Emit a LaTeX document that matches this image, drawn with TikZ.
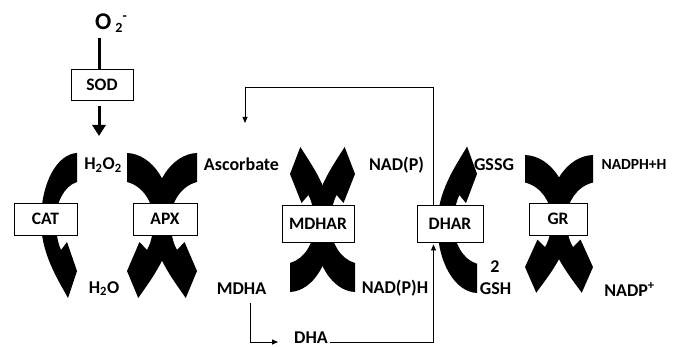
\documentclass[tikz,border=0pt]{standalone}
\usepackage{fontspec}
\setmainfont{Carlito}
\usetikzlibrary{arrows.meta}
\begin{document}
\begin{tikzpicture}[x=1pt,y=-1pt,
 cres/.pic={\fill[black] (0,0) .. controls (-20,1) and (-36,30) .. (-36,68)
   .. controls (-36,100) and (-20,125) .. (-9,145) -- (0,118) -- (-10,89) -- (-16,97)
   .. controls (-20,88) and (-21,78) .. (-21,66) .. controls (-21,50) and (-13,33) .. (0,29) -- cycle;},
 enz/.style={draw=black,line width=0.9pt,fill=white,inner sep=0pt,font=\bfseries\fontsize{17.5}{18}\selectfont},
 lab/.style={inner sep=0pt,anchor=base,font=\bfseries\fontsize{18}{18}\selectfont},
 thinarr/.style={line width=0.8pt,-{Triangle[length=6pt,width=5pt]}},
 thickln/.style={line width=3pt},
]
\fill[white] (0,0) rectangle (676,347);
\useasboundingbox (0,0) rectangle (676,347);

% curved arrows
\pic at (77,153) {cres};
\pic[xscale=1.25] at (197,153) {cres};
\pic[xscale=-1.25] at (127,153) {cres};
\pic[xscale=1.15,yscale=-1] at (355,292) {cres};
\pic[xscale=-1.15,yscale=-1] at (290,292) {cres};
\pic[xscale=1.1,yscale=-1.01] at (477,293) {cres};
\pic[xscale=1.25,yscale=0.95] at (593,155) {cres};
\pic[xscale=-1.25,yscale=0.95] at (525,155) {cres};

% enzyme boxes
\node[enz,minimum width=63pt,minimum height=32pt] (cat) at (45.5,219) {CAT};
\node[enz,minimum width=64pt,minimum height=32pt] (apx) at (165,219) {APX};
\node[enz,minimum width=72pt,minimum height=37pt] (mdhar) at (318,223.5) {MDHAR};
\node[enz,minimum width=66pt,minimum height=37pt] (dhar) at (450,223.5) {DHAR};
\node[enz,minimum width=58pt,minimum height=32pt] (gr) at (558,219) {GR};
\node[enz,minimum width=62pt,minimum height=31pt] (sod) at (102,84.5) {SOD};

% labels
\node[lab,font=\bfseries\fontsize{24}{24}\selectfont] (o2) at (111,30) {O\hspace{4pt}\raisebox{-3pt}{\fontsize{14}{14}\selectfont 2}\raisebox{9pt}{\fontsize{14}{14}\selectfont -}};
\node[lab] (h2o2) at (103,170) {H\textsubscript{2}O\textsubscript{2}};
\node[lab] (asc) at (241.5,171) {Ascorbate};
\node[lab] (nadp) at (396.5,171) {NAD(P)};
\node[lab] (gssg) at (494,171) {GSSG};
\node[lab,font=\bfseries\fontsize{15.5}{16}\selectfont] (nadphh) at (634,170) {NADPH+H};
\node[lab] (h2o) at (104,293) {H\textsubscript{2}O};
\node[lab] (mdha) at (241.5,294) {MDHA};
\node[lab] (nadph) at (395,293) {NAD(P)H};
\node[lab] (two) at (495,272) {2};
\node[lab] (gsh) at (495.5,294) {GSH};
\node[lab] (nadpp) at (629.5,296) {NADP\textsuperscript{+}};
\node[lab] (dha) at (311,343) {DHA};

% connectors
\coordinate (o2foot) at (99,38);
\draw[thickln] (o2foot) -- (o2foot |- sod.north);
\coordinate (sodtip) at (99,136);
\draw[thickln,-{Triangle[length=11pt,width=13pt]}] (sodtip |- sod.south) ++(0,6) -- (sodtip);

\coordinate (fbtop) at (433.5,87);
\coordinate (asctip) at (245,123);
\draw[thinarr] (fbtop |- dhar.north) -- (fbtop) -| (asctip);

\coordinate (fbbot) at (433.5,342);
\draw[thinarr,shorten >=2pt] (dha.east |- fbbot) ++(2,0) -- (fbbot) -- (fbbot |- dhar.south);

\coordinate (mdhac) at (250,303);
\draw[thinarr] (mdhac) |- ([xshift=-16pt]dha.west |- fbbot);
\end{tikzpicture}
\end{document}
